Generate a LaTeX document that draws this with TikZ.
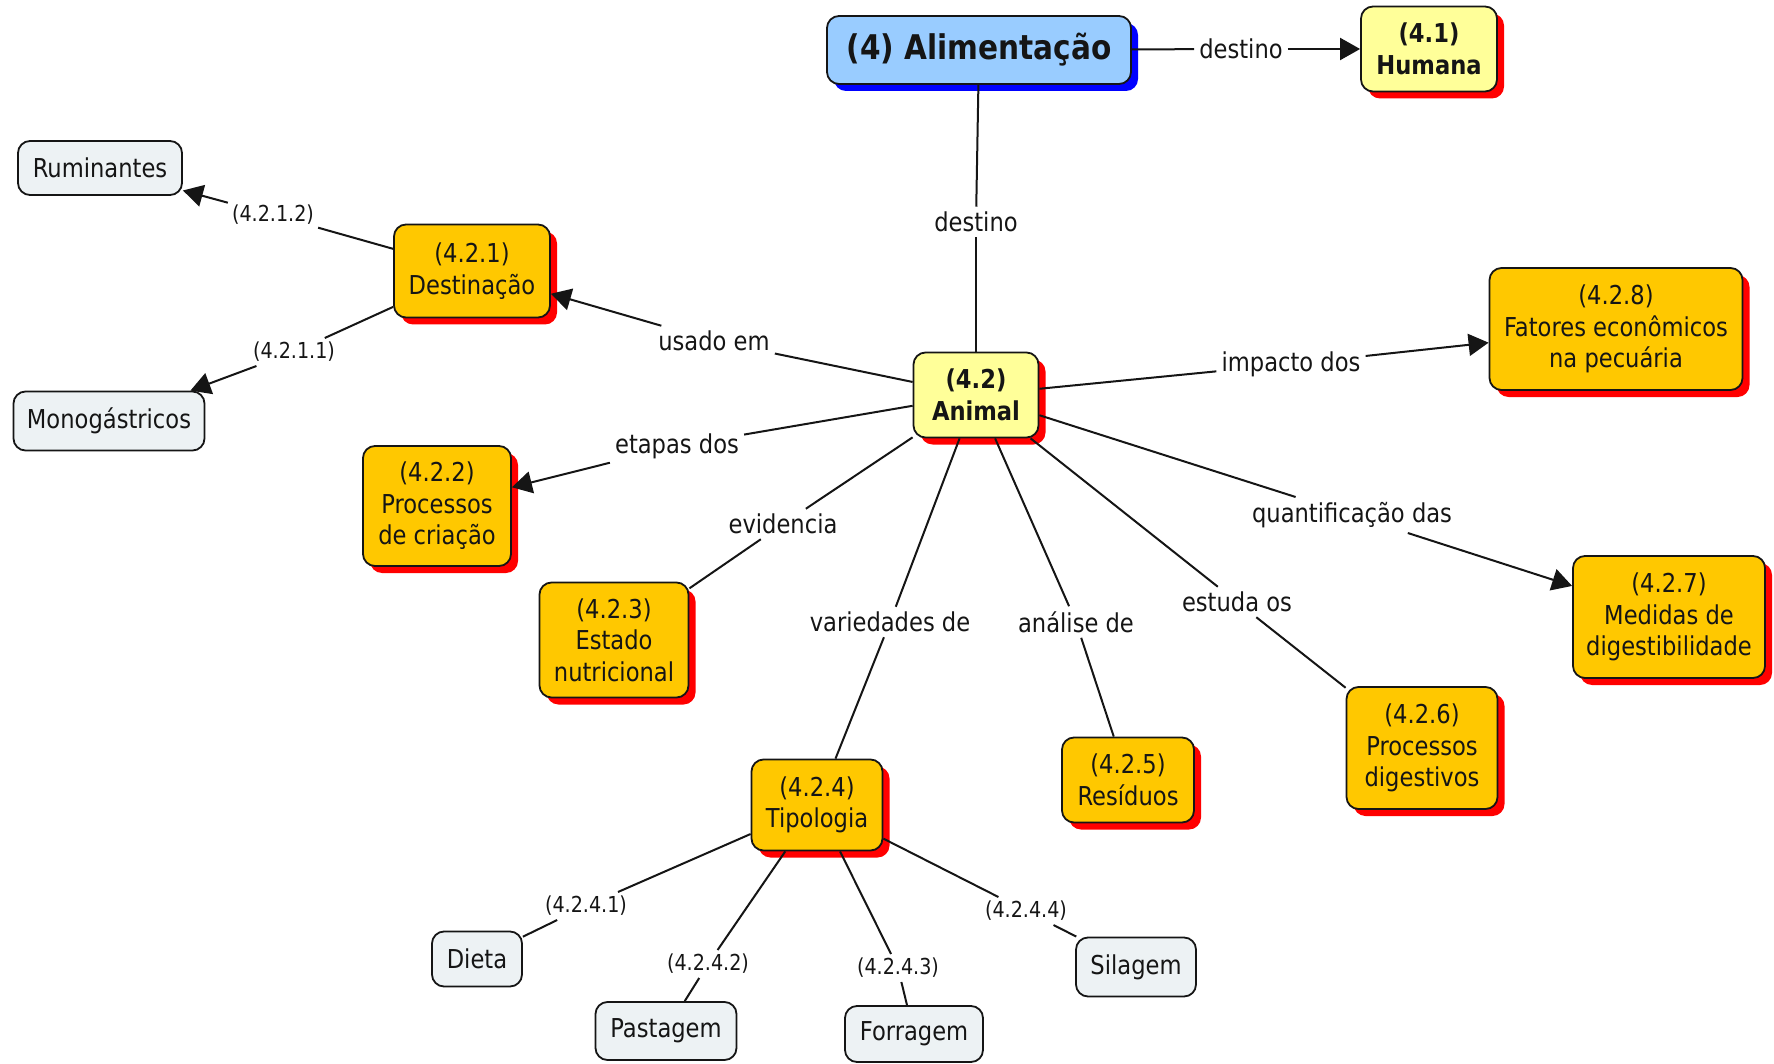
\documentclass[tikz,border=0pt]{standalone}
\usepackage{fontspec}
\setmainfont{DejaVu Sans}[FakeStretch=0.87]
\usetikzlibrary{shadows,arrows.meta}
\definecolor{conceptblue}{HTML}{99CCFF}
\definecolor{conceptyellow}{HTML}{FFFF99}
\definecolor{conceptorange}{HTML}{FFC800}
\definecolor{leafgrey}{HTML}{EDF2F4}
\definecolor{ink}{HTML}{151515}
\begin{document}
\begin{tikzpicture}[x=1pt,y=-1pt,
  box/.style={draw=ink, line width=1.8pt, rounded corners=12pt, align=center,
    inner sep=0pt, text=ink, font=\fontsize{26}{31.5}\selectfont},
  redshadow/.style={drop shadow={shadow xshift=7pt, shadow yshift=-7pt, fill=red, opacity=1}},
  blueshadow/.style={drop shadow={shadow xshift=7pt, shadow yshift=-7pt, fill=blue, opacity=1}},
  topbox/.style={box, fill=conceptblue, blueshadow, font=\bfseries\fontsize{34}{40}\selectfont},
  keybox/.style={box, fill=conceptyellow, redshadow, font=\bfseries\fontsize{26}{31.5}\selectfont},
  subbox/.style={box, fill=conceptorange, redshadow},
  leaf/.style={box, fill=leafgrey},
  lbl/.style={text=ink, inner sep=5pt, font=\fontsize{26}{31}\selectfont},
  sl/.style={text=ink, inner sep=4pt, font=\fontsize{22}{26}\selectfont},
  con/.style={draw=ink, line width=2pt},
  arr/.style={con, -{Triangle[length=20pt,width=22pt]}}
]
\useasboundingbox (0,0) rectangle (1774,1064);

% concepts
\node[topbox, minimum width=304, minimum height=68] (alim) at (979,50) {(4) Alimentação};
\node[keybox, minimum width=136, minimum height=85] (hum) at (1429,49) {(4.1)\\Humana};
\node[keybox, minimum width=125, minimum height=85] (animal) at (976,395) {(4.2)\\Animal};
\node[subbox, minimum width=156, minimum height=93] (dest) at (472,271) {(4.2.1)\\Destinação};
\node[leaf, minimum width=164, minimum height=54] (rum) at (100,168) {Ruminantes};
\node[leaf, minimum width=191, minimum height=59] (mono) at (109,421) {Monogástricos};
\node[subbox, minimum width=148, minimum height=120] (criacao) at (437,506) {(4.2.2)\\Processos\\de criação};
\node[subbox, minimum width=149, minimum height=115] (estado) at (614,640) {(4.2.3)\\Estado\\nutricional};
\node[subbox, minimum width=131, minimum height=91] (tipo) at (817,805) {(4.2.4)\\Tipologia};
\node[subbox, minimum width=132, minimum height=85] (resid) at (1128,780) {(4.2.5)\\Resíduos};
\node[subbox, minimum width=151, minimum height=122] (digest) at (1422,748) {(4.2.6)\\Processos\\digestivos};
\node[subbox, minimum width=192, minimum height=122] (medidas) at (1669,617) {(4.2.7)\\Medidas de\\digestibilidade};
\node[subbox, minimum width=253, minimum height=122] (fatores) at (1616,329) {(4.2.8)\\Fatores econômicos\\na pecuária};
\node[leaf, minimum width=90, minimum height=55] (dieta) at (477,959) {Dieta};
\node[leaf, minimum width=141, minimum height=58] (past) at (666,1031) {Pastagem};
\node[leaf, minimum width=138, minimum height=56] (forr) at (914,1034) {Forragem};
\node[leaf, minimum width=120, minimum height=59] (silag) at (1136,967) {Silagem};

% linking phrases
\node[lbl] (l-hum) at (1241,49) {destino};
\node[lbl] (l-animal) at (976,222) {destino};
\node[lbl] (l-usado) at (714,341) {usado em};
\node[lbl] (l-etapas) at (677,446) {etapas dos};
\node[lbl] (l-evid) at (783,524) {evidencia};
\node[lbl] (l-var) at (890,622) {variedades de};
\node[lbl] (l-anal) at (1076,622) {análise de};
\node[lbl] (l-estuda) at (1237,602) {estuda os};
\node[lbl] (l-quant) at (1352,515) {quantificação das};
\node[lbl] (l-impacto) at (1291,364) {impacto dos};
\node[sl] (l-rum) at (273,215) {(4.2.1.2)};
\node[sl] (l-mono) at (294,352) {(4.2.1.1)};
\node[sl] (l-dieta) at (586,906) {(4.2.4.1)};
\node[sl] (l-past) at (708,964) {(4.2.4.2)};
\node[sl] (l-forr) at (898,968) {(4.2.4.3)};
\node[sl] (l-silag) at (1026,911) {(4.2.4.4)};

% connectors
\draw[con] (alim) -- (l-hum);
\draw[arr] (l-hum) -- (hum);
\draw[con] (alim) -- (l-animal);
\draw[con] (l-animal) -- (animal);

\draw[con] (animal) -- (l-usado);
\draw[arr] (l-usado) -- (dest);
\draw[con] (dest) -- (l-rum);
\draw[arr] (l-rum) -- (rum);
\draw[con] (dest) -- (l-mono);
\draw[arr] (l-mono) -- (mono);

\draw[con] (animal) -- (l-etapas);
\draw[arr] (l-etapas) -- (criacao);
\draw[con] (animal) -- (l-evid);
\draw[con] (l-evid) -- (estado);
\draw[con] (animal) -- (l-var);
\draw[con] (l-var) -- (tipo);
\draw[con] (animal) -- (l-anal);
\draw[con] (l-anal) -- (resid);
\draw[con] (animal) -- (l-estuda);
\draw[con] (l-estuda) -- (digest);
\draw[con] (animal) -- (l-quant);
\draw[arr] (l-quant) -- (medidas);
\draw[con] (animal) -- (l-impacto);
\draw[arr] (l-impacto) -- (fatores);

\draw[con] (tipo) -- (l-dieta);
\draw[con] (l-dieta) -- (dieta);
\draw[con] (tipo) -- (l-past);
\draw[con] (l-past) -- (past);
\draw[con] (tipo) -- (l-forr);
\draw[con] (l-forr) -- (forr);
\draw[con] (tipo) -- (l-silag);
\draw[con] (l-silag) -- (silag);
\end{tikzpicture}
\end{document}
